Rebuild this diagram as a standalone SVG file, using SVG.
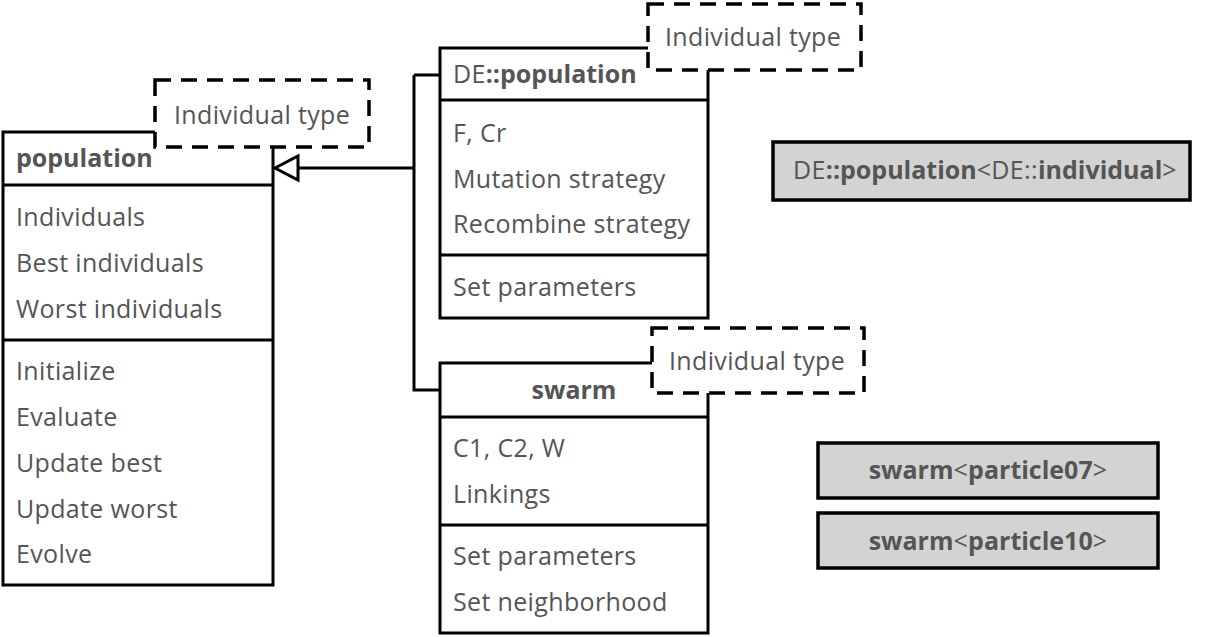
<svg xmlns="http://www.w3.org/2000/svg" width="1206" height="637" viewBox="0 0 1206 637">
<style>
text{font-family:"Open Sans","Liberation Sans",sans-serif;font-size:25px;fill:#555;letter-spacing:0.35px}
.b{font-weight:bold;letter-spacing:0}
.box{fill:#fff;stroke:#000;stroke-width:3}
.ln{stroke:#000;stroke-width:3;fill:none}
.dash{fill:#fff;stroke:#000;stroke-width:3.5;stroke-dasharray:16 10}
.gray{fill:#d3d3d3;stroke:#000;stroke-width:3.5}
</style>
<rect width="1206" height="637" fill="#fff"/>
<g id="connectors">
<path class="ln" d="M298,168 H414 M414,75 V390 H440 M414,75 H440"/>
<path d="M275,168 L298,156 L298,180 Z" fill="#fff" stroke="#000" stroke-width="3"/>
</g>
<g id="population">
<rect class="box" x="3" y="132" width="270" height="453"/>
<path class="ln" d="M3,185 H273 M3,340 H273"/>
<text x="16" y="167" class="b">population</text>
<text x="16" y="226">Individuals</text>
<text x="16" y="272">Best individuals</text>
<text x="16" y="318">Worst individuals</text>
<text x="16" y="380">Initialize</text>
<text x="16" y="426">Evaluate</text>
<text x="16" y="472">Update best</text>
<text x="16" y="518">Update worst</text>
<text x="16" y="563">Evolve</text>
</g>
<g id="population-type">
<rect class="dash" x="155" y="80" width="214" height="67"/>
<text x="174" y="124">Individual type</text>
</g>
<g id="de-population">
<rect class="box" x="440" y="48" width="268" height="270"/>
<path class="ln" d="M440,100 H708 M440,255 H708"/>
<text x="453" y="83">DE<tspan class="b">::population</tspan></text>
<text x="453" y="142">F, Cr</text>
<text x="453" y="188">Mutation strategy</text>
<text x="453" y="233">Recombine strategy</text>
<text x="453" y="296">Set parameters</text>
</g>
<g id="de-type">
<rect class="dash" x="648" y="4" width="213" height="66"/>
<text x="665" y="46">Individual type</text>
</g>
<g id="swarm">
<rect class="box" x="440" y="363" width="268" height="270"/>
<path class="ln" d="M440,417 H708 M440,525 H708"/>
<text x="574" y="399" class="b" text-anchor="middle">swarm</text>
<text x="453" y="457">C1, C2, W</text>
<text x="453" y="503">Linkings</text>
<text x="453" y="565">Set parameters</text>
<text x="453" y="611">Set neighborhood</text>
</g>
<g id="swarm-type">
<rect class="dash" x="652" y="328" width="212" height="65"/>
<text x="669" y="370">Individual type</text>
</g>
<g id="de-instance">
<rect class="gray" x="773" y="142" width="417" height="58"/>
<text x="985" y="179" text-anchor="middle">DE<tspan class="b">::population</tspan>&lt;DE::<tspan class="b">individual</tspan>&gt;</text>
</g>
<g id="swarm07">
<rect class="gray" x="818" y="443" width="340" height="55"/>
<text x="988" y="479" text-anchor="middle"><tspan class="b">swarm</tspan>&lt;<tspan class="b">particle07</tspan>&gt;</text>
</g>
<g id="swarm10">
<rect class="gray" x="818" y="513" width="340" height="55"/>
<text x="988" y="550" text-anchor="middle"><tspan class="b">swarm</tspan>&lt;<tspan class="b">particle10</tspan>&gt;</text>
</g>
</svg>
